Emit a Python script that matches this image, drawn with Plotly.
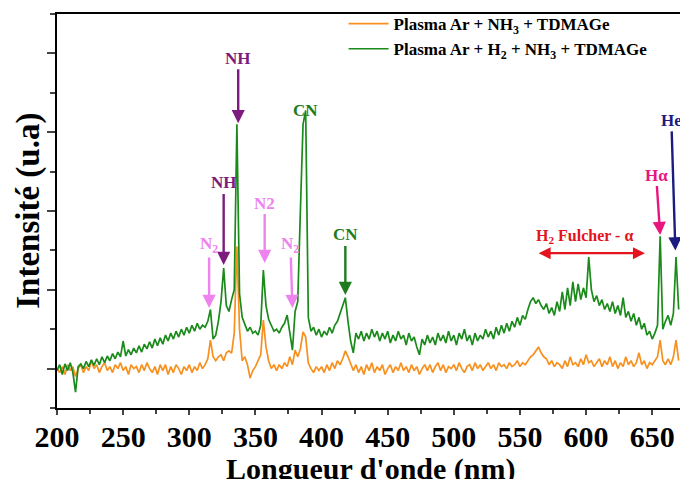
import plotly.graph_objects as go

wavelength = list(range(200, 672, 2))

green_ar_h2_nh3 = [
    -0.05, 0.1, -0.15, 0.12, -0.05, 0.15, -0.1, -0.6, 0.05, 0.12,
    0.0, 0.18, 0.05, 0.22, 0.08, 0.25, 0.1, 0.3, 0.15, 0.32,
    0.2, 0.38, 0.25, 0.42, 0.3, 0.7, 0.32, 0.48, 0.35, 0.52,
    0.4, 0.58, 0.42, 0.62, 0.5, 0.68, 0.52, 0.75, 0.58, 0.78,
    0.62, 0.85, 0.7, 0.9, 0.75, 0.95, 0.8, 1.0, 0.85, 1.05,
    0.9, 1.1, 0.95, 1.15, 1.0, 1.1, 1.05, 1.2, 1.5, 0.75,
    0.85, 1.2, 1.7, 2.55, 1.6, 1.45, 1.75, 2.0, 6.2, 1.9,
    1.3, 1.1, 0.95, 1.05, 0.9, 0.95, 0.85, 1.1, 2.5, 1.6,
    1.25, 1.1, 0.95, 1.0, 0.9, 1.05, 1.15, 1.36, 0.9, 0.47,
    1.45, 1.7, 4.0, 6.2, 6.55, 1.3, 0.95, 1.05, 0.85, 1.0,
    0.8, 0.95, 0.85, 1.05, 0.9, 1.1, 1.2, 1.4, 1.6, 1.8,
    1.2, 0.7, 0.4, 0.9, 0.75, 0.95, 0.7, 0.9, 0.75, 1.0,
    0.8, 0.95, 0.7, 0.9, 0.75, 0.95, 0.65, 0.85, 0.7, 0.95,
    0.75, 0.85, 0.6, 0.9, 0.7, 0.8, 0.55, 0.35, 0.75, 0.6,
    0.85, 0.65, 0.8, 0.6, 0.9, 0.7, 0.85, 0.65, 0.95, 0.7,
    0.85, 0.6, 0.9, 0.75, 1.0, 0.7, 0.85, 0.6, 0.9, 0.7,
    0.85, 0.75, 1.0, 0.8, 0.95, 0.75, 1.05, 0.85, 1.1, 0.9,
    1.15, 0.95, 1.2, 1.05, 1.3, 1.1, 1.35, 1.25, 1.5, 1.7,
    1.8, 1.65, 1.75, 1.6, 1.5, 1.65, 1.4, 1.55, 1.35, 1.7,
    1.45, 1.95, 1.5, 2.05, 1.6, 2.2, 1.7, 2.15, 1.75, 2.05,
    1.8, 2.83, 2.0, 1.7, 1.85, 1.6, 1.75, 1.5, 1.65, 1.45,
    1.7, 1.4, 1.6, 1.35, 1.8, 1.3, 1.45, 1.2, 1.4, 1.1,
    1.3, 1.0, 1.15, 0.85, 0.95, 0.75, 0.9, 1.1, 3.36, 1.0,
    1.2, 1.35, 1.1, 1.4, 2.83, 1.5,
]

orange_ar_nh3 = [
    0.0, -0.1, 0.05, -0.15, 0.1, -0.05, 0.05, -0.2, 0.0, 0.1,
    -0.1, 0.05, -0.05, 0.2, 0.0, 0.1, -0.1, 0.05, 0.15, -0.05,
    0.05, -0.1, 0.1, 0.0, 0.15, -0.05, 0.05, -0.15, 0.1, 0.0,
    0.05, -0.1, 0.1, -0.05, 0.15, 0.0, -0.1, 0.05, -0.15, 0.1,
    -0.05, 0.1, -0.15, 0.05, -0.1, 0.1, 0.0, -0.15, 0.05, -0.05,
    0.1, -0.1, 0.05, -0.05, 0.15, 0.0, 0.1, 0.25, 0.72, 0.3,
    0.2, 0.3, 0.35, 0.2, 0.4, 0.45, 0.39, 0.9, 3.1, 1.0,
    0.2, 0.3, 0.1, -0.24, -0.05, 0.05, 0.2, 0.35, 1.23, 0.55,
    0.2, 0.0, 0.1, -0.05, 0.1, 0.0, 0.15, 0.05, 0.3, 0.1,
    0.47, 0.3, 0.5, 0.93, 0.8, 0.14, 0.0, -0.1, 0.05, -0.05,
    0.05, -0.1, 0.1, -0.05, 0.15, 0.0, 0.2, 0.1, 0.25, 0.45,
    0.3, 0.1, -0.05, 0.1, -0.1, 0.05, -0.15, 0.1, -0.05, 0.15,
    -0.1, 0.05, -0.05, 0.1, -0.15, 0.0, 0.1, -0.1, 0.05, -0.05,
    0.15, -0.05, 0.05, -0.1, 0.1, -0.05, 0.05, -0.15, 0.0, 0.1,
    -0.05, 0.1, -0.1, 0.05, 0.15, -0.05, 0.1, -0.1, 0.05, 0.0,
    0.1, -0.05, 0.15, 0.0, -0.1, 0.05, 0.1, -0.05, 0.15, 0.0,
    0.1, -0.05, 0.05, 0.15, 0.0, 0.1, -0.05, 0.15, 0.05, 0.1,
    0.0, 0.15, 0.05, 0.1, 0.2, 0.05, 0.15, 0.1, 0.2, 0.3,
    0.35, 0.45, 0.55, 0.4, 0.3, 0.25, 0.1, 0.2, 0.05, 0.15,
    0.1, 0.0, 0.2, 0.05, 0.3, 0.1, 0.15, 0.05, 0.25, 0.1,
    0.35, 0.15, 0.2, 0.05, 0.15, 0.25, 0.05, 0.2, 0.1, 0.3,
    0.05, 0.2, 0.0, 0.15, 0.05, 0.3, 0.1, 0.2, 0.05, 0.15,
    0.4, 0.1, 0.2, 0.0, 0.15, 0.1, 0.2, 0.3, 0.72, 0.2,
    0.1, 0.25, 0.1, 0.3, 0.72, 0.2,
]

x_ticks = [200, 250, 300, 350, 400, 450, 500, 550, 600, 650]
series_names = [
    "Plasma Ar + NH<sub>3</sub> + TDMAGe",
    "Plasma Ar + H<sub>2</sub> + NH<sub>3</sub> + TDMAGe",
]

# labelled emission lines
line_labels = ["NH", "NH", "N<sub>2</sub>", "N2", "N<sub>2</sub>", "CN", "H\u03b1", "He"]
line_x = [337, 326, 315, 357, 378, 418, 656, 667.5]
line_tip = [6.23, 2.63, 1.54, 2.68, 1.54, 1.87, 3.39, 3.0]
line_text_dx = [0, 0, 0, 0, -2, 0, -4, -4]
line_text_dy = [-65, -82, -63, -60, -63, -60, -60, -130]
line_colors = ["#7B1C7E", "#7B1C7E", "#EE82EE", "#EE82EE", "#EE82EE",
               "#1E7B1E", "#E8157F", "#1C1C80"]

assert len(wavelength) == len(green_ar_h2_nh3) == len(orange_ar_nh3)

FONT = "Liberation Serif, Times New Roman, serif"

fig = go.Figure()
fig.add_trace(go.Scatter(x=wavelength, y=orange_ar_nh3, mode="lines",
                         name=series_names[0],
                         line=dict(color="#F7901E", width=1.7)))
fig.add_trace(go.Scatter(x=wavelength, y=green_ar_h2_nh3, mode="lines",
                         name=series_names[1],
                         line=dict(color="#1A8A1A", width=1.7)))

annotations = []
for txt, x, y, dx, dy, col in zip(line_labels, line_x, line_tip, line_text_dx,
                                  line_text_dy, line_colors):
    annotations.append(dict(
        x=x, y=y, xref="x", yref="y", text=txt, showarrow=True,
        ax=dx, ay=dy, arrowhead=2, arrowsize=1.1, arrowwidth=2.4,
        arrowcolor=col, font=dict(family=FONT, size=17, color=col, weight="bold"),
    ))
annotations.append(dict(x=388, y=6.56, xref="x", yref="y", text="CN", showarrow=False,
                        font=dict(family=FONT, size=17, color="#1E7B1E", weight="bold")))
annotations.append(dict(x=599, y=3.36, xref="x", yref="y", text="H<sub>2</sub> Fulcher - \u03b1",
                        showarrow=False,
                        font=dict(family=FONT, size=16, color="#E3141B", weight="bold")))
annotations.append(dict(x=644.5, y=2.93, ax=563, ay=2.93, xref="x", yref="y",
                        axref="x", ayref="y", text="", showarrow=True,
                        arrowhead=2, startarrowhead=2, arrowside="end+start",
                        arrowsize=1.0, startarrowsize=1.0, arrowwidth=2.4,
                        arrowcolor="#E3141B"))
# axis titles
annotations.append(dict(x=-0.047, y=0.5, xref="paper", yref="paper", textangle=-90,
                        text="Intensité (u.a)", showarrow=False,
                        xanchor="center", yanchor="middle",
                        font=dict(family=FONT, size=33, color="black", weight="bold")))
annotations.append(dict(x=0.504, y=-0.106, xref="paper", yref="paper",
                        text="Longueur d'onde (nm)", showarrow=False,
                        xanchor="center", yanchor="top",
                        font=dict(family=FONT, size=30, color="black", weight="bold")))

fig.update_layout(
    width=680, height=479,
    margin=dict(l=57, r=0, t=14, b=71),
    paper_bgcolor="white", plot_bgcolor="white",
    font=dict(family=FONT, color="black"),
    annotations=annotations,
    showlegend=True,
    legend=dict(x=0.46, y=1.02, xanchor="left", yanchor="top",
                bgcolor="rgba(255,255,255,0)",
                font=dict(family=FONT, size=17, color="black", weight="bold"),
                tracegroupgap=0, itemwidth=40),
)
fig.update_xaxes(
    range=[200, 671], tickvals=x_ticks, ticks="outside", ticklen=5, tickwidth=1.5,
    minor=dict(dtick=25, tick0=200, ticks="outside", ticklen=4, tickwidth=1.5),
    showline=True, linecolor="black", linewidth=1.5, mirror=True,
    showgrid=False, zeroline=False, automargin=False, ticklabelstandoff=-4,
    tickfont=dict(family=FONT, size=30, color="black", weight="bold"),
)
fig.update_yaxes(
    range=[-1, 9], tick0=0, dtick=2, ticks="outside", ticklen=8, tickwidth=1.5,
    minor=dict(dtick=1, tick0=1, ticks="outside", ticklen=5, tickwidth=1.5),
    showticklabels=False, showline=True, linecolor="black", linewidth=1.5,
    showgrid=False, zeroline=False, automargin=False,
)

# remove the default page margin so the 680x479 figure fills the window exactly
fig.write_html(
    "out.html",
    config={"displayModeBar": False},
    post_script="document.body.style.margin='0';"
                "document.documentElement.style.overflow='hidden';",
)
